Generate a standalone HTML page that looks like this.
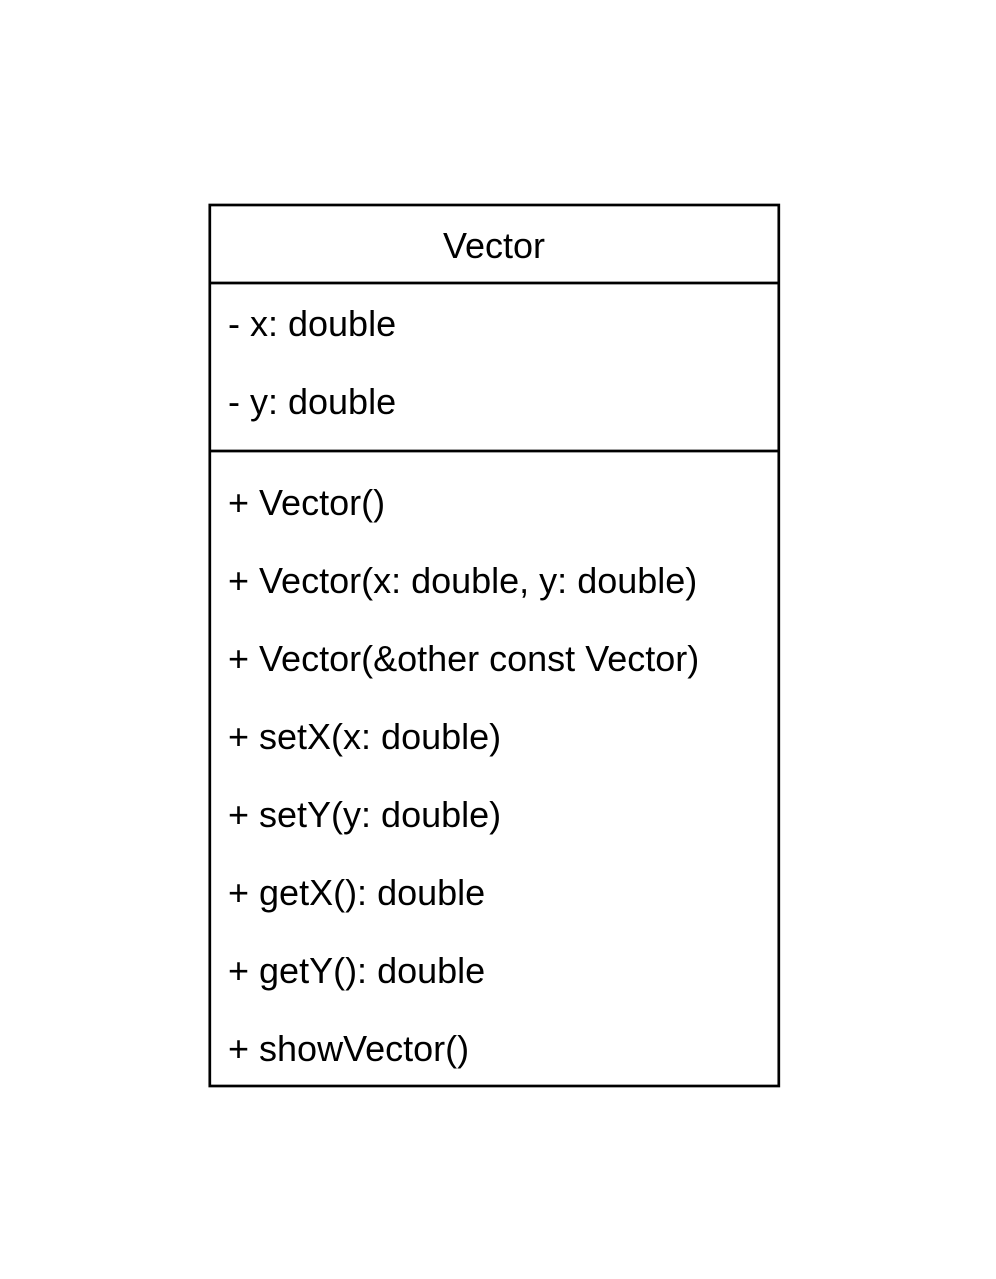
<!DOCTYPE html>
<html><head><meta charset="utf-8"><style>html,body{margin:0;padding:0;background:#fff}</style></head>
<body>
<svg width="996" height="1279" xmlns="http://www.w3.org/2000/svg" style="display:block">
<rect width="996" height="1279" fill="#fff"/>
<rect x="209.8" y="205" width="569" height="881" fill="#fff" stroke="#000" stroke-width="2.7"/>
<line x1="209.8" y1="283" x2="778.8" y2="283" stroke="#000" stroke-width="2.7"/>
<line x1="209.8" y1="451" x2="778.8" y2="451" stroke="#000" stroke-width="2.7"/>
<g font-family="'Liberation Sans', Arial, sans-serif" font-size="36" fill="#000">
<text x="494" y="258" text-anchor="middle">Vector</text>
<text x="228" y="336">- x: double</text>
<text x="228" y="414">- y: double</text>
<text x="228" y="515">+ Vector()</text>
<text x="228" y="593">+ Vector(x: double, y: double)</text>
<text x="228" y="671">+ Vector(&amp;other const Vector)</text>
<text x="228" y="749">+ setX(x: double)</text>
<text x="228" y="827">+ setY(y: double)</text>
<text x="228" y="905">+ getX(): double</text>
<text x="228" y="983">+ getY(): double</text>
<text x="228" y="1061">+ showVector()</text>
</g>
</svg>
</body></html>
